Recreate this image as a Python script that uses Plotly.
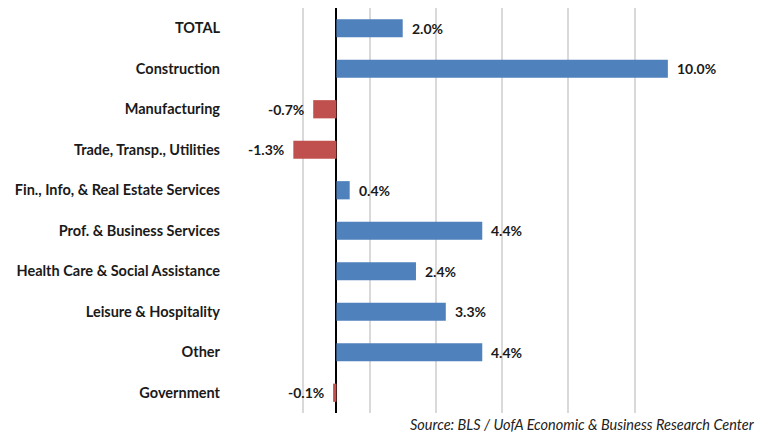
import plotly.graph_objects as go

categories = ["TOTAL", "Construction", "Manufacturing", "Trade, Transp., Utilities",
              "Fin., Info, & Real Estate Services", "Prof. & Business Services",
              "Health Care & Social Assistance", "Leisure & Hospitality", "Other", "Government"]
values = [2.0, 10.0, -0.7, -1.3, 0.4, 4.4, 2.4, 3.3, 4.4, -0.1]
grid_ticks = [-3, -1, 1, 3, 5, 7, 9, 11]
source_text = "Source: BLS / UofA Economic & Business Research Center"

BLUE = "#4F81BD"
RED = "#C0504D"
FONT = "Lato"
TXT = "#1A1A1A"

colors = [BLUE if v >= 0 else RED for v in values]

fig = go.Figure()
fig.add_trace(go.Bar(
    x=values, y=categories, orientation="h",
    marker=dict(color=colors, line=dict(width=0)),
    width=0.45,
    hoverinfo="skip",
))

for c, v in zip(categories, values):
    fig.add_annotation(
        x=v, y=c, xref="x", yref="y",
        text=f"<b>{v:.1f}%</b>",
        showarrow=False,
        xanchor="left" if v >= 0 else "right",
        xshift=7 if v >= 0 else -7,
        font=dict(family=FONT, size=14, color=TXT),
    )

fig.add_annotation(
    x=1.121, y=0, xref="paper", yref="paper",
    text=f"<i>{source_text}</i>",
    showarrow=False, xanchor="right", yanchor="top", yshift=-1,
    font=dict(family=FONT, size=14.5, color="#222222"),
)

fig.update_layout(
    width=765, height=433,
    margin=dict(l=237, r=64, t=8, b=20, autoexpand=False),
    plot_bgcolor="white", paper_bgcolor="white",
    showlegend=False,
    xaxis=dict(
        range=[-3, 11], tickvals=grid_ticks, showticklabels=False,
        showgrid=True, gridcolor="#D9D9D9", gridwidth=1.5,
        zeroline=True, zerolinecolor="#000000", zerolinewidth=1.5,
        showline=False, fixedrange=True, automargin=False,
    ),
    yaxis=dict(
        categoryorder="array", categoryarray=categories, autorange="reversed",
        tickfont=dict(family=FONT, size=14.5, color=TXT),
        ticklabelstandoff=16, showgrid=False, showline=False, ticks="",
        fixedrange=True, automargin=False,
    ),
    font=dict(family=FONT),
)
fig.update_yaxes(ticktext=[f"<b>{c}</b>" for c in categories], tickvals=categories)

fig.write_html("out.html", config={"displayModeBar": False},
               post_script="document.body.style.margin='0';document.body.style.overflow='hidden';")
